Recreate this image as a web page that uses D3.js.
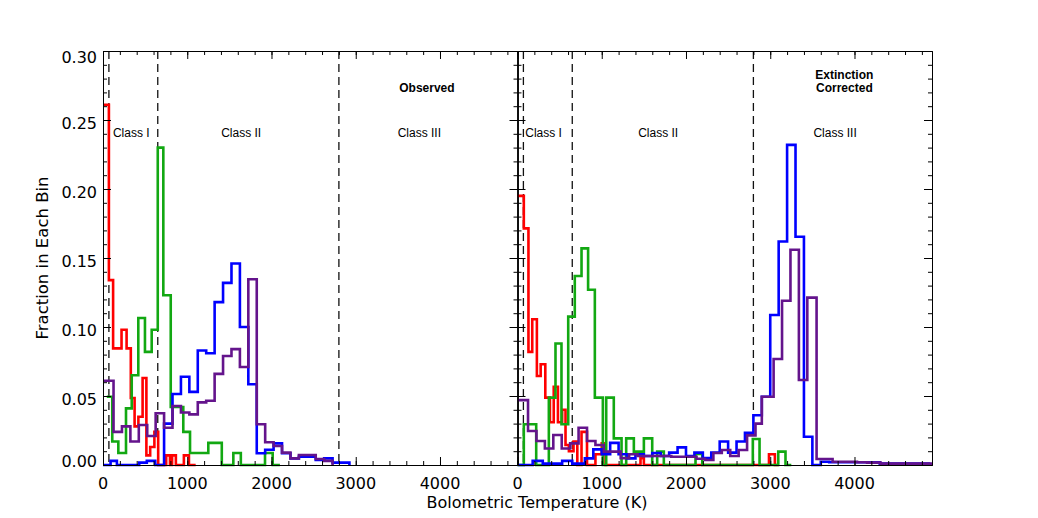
<!DOCTYPE html>
<html>
<head>
<meta charset="utf-8">
<script src="https://cdn.jsdelivr.net/npm/d3@7"></script>
<style>
  body { margin: 0; background: #fff; }
  svg text { font-family: "DejaVu Sans", sans-serif; fill: #000; }
  .tick-label { font-size: 16px; }
  .axis-title { font-size: 16px; }
  .note { font-family: "Liberation Sans", Arial, sans-serif; font-size: 12px; }
  .note.bold { font-weight: bold; }
  .axis path, .axis line { stroke: #000; stroke-width: 1; }
</style>
</head>
<body>
<div id="chart"></div>
<script>
// Bolometric temperature bins: [bin start T (K), fraction in bin]; last pair closes the step
const redObs = [[0, 0.261], [70, 0.134], [120, 0.0845], [220, 0.098], [280, 0.0845], [330, 0.0485],
  [375, 0.028], [420, 0.035], [470, 0.063], [515, 0.007], [560, 0.013], [610, 0.024], [655, 0],
  [750, 0.007], [795, 0], [820, 0.007], [865, 0], [960, 0.007], [1020, 0], [1100, 0]];
const greenObs = [[45, 0.0495], [110, 0.017], [182, 0.0087], [273, 0.041], [341, 0.065], [419, 0.1065],
  [498, 0.082], [578, 0.098], [650, 0.23], [716, 0.123], [804, 0.042], [953, 0.024], [1033, 0.0087],
  [1250, 0.016], [1410, 0], [1547, 0.0087], [1636, 0], [1923, 0.0087], [2014, 0], [2100, 0]];
const blueObs = [[0, 0], [90, 0.003], [165, 0], [430, 0.0017], [520, 0.003], [620, 0], [725, 0.030],
  [825, 0.0514], [925, 0.064], [1025, 0.053], [1125, 0.083], [1225, 0.081], [1325, 0.118], [1425, 0.132],
  [1525, 0.146], [1625, 0.100], [1725, 0.0585], [1825, 0.0085], [1925, 0.011], [2025, 0.0157],
  [2125, 0.0085], [2225, 0.0048], [2325, 0.006], [2425, 0.006], [2525, 0.0036], [2625, 0.0048],
  [2725, 0.0017], [2825, 0.0017], [2925, 0]];
const purpleObs = [[0, 0.061], [125, 0.024], [225, 0.028], [325, 0.017], [425, 0.029], [525, 0.021],
  [625, 0.0375], [725, 0.027], [825, 0.0428], [925, 0.038], [1025, 0.0367], [1125, 0.0454], [1225, 0.0466],
  [1325, 0.066], [1425, 0.079], [1525, 0.084], [1625, 0.071], [1725, 0.1346], [1825, 0.0295],
  [1925, 0.0165], [2025, 0.0138], [2125, 0.009], [2225, 0.0048], [2325, 0.0072], [2525, 0.0043],
  [2625, 0.003], [2725, 0]];

const redExt = [[0, 0.195], [75, 0.1715], [130, 0.082], [175, 0.1056], [230, 0.0645], [275, 0.073],
  [330, 0.0488], [385, 0.031], [430, 0.0567], [480, 0.031], [530, 0.040], [570, 0.0145], [610, 0.010],
  [665, 0.017], [710, 0], [760, 0.024], [825, 0], [925, 0.0078], [1000, 0.0157], [1045, 0],
  [1460, 0.005], [1500, 0], [2985, 0.0078], [3055, 0], [3100, 0]];
const greenExt = [[0, 0], [75, 0.0295], [222, 0], [372, 0.0488], [451, 0.088], [522, 0.0295],
  [602, 0.1075], [680, 0.137], [760, 0.157], [838, 0.127], [918, 0.0488], [1013, 0], [1053, 0.0488],
  [1143, 0.0193], [1235, 0], [1290, 0.0193], [1381, 0.0097], [1500, 0.0193], [1599, 0], [1658, 0.0097],
  [1737, 0], [2113, 0.008], [2193, 0], [2793, 0.0188], [2873, 0], [3095, 0.0097], [3181, 0], [3250, 0]];
const blueExt = [[0, 0], [180, 0.003], [300, 0.001], [530, 0.003], [650, 0.001], [800, 0.0048],
  [900, 0.0113], [1000, 0.0078], [1100, 0.016], [1200, 0.0078], [1300, 0.0048], [1400, 0.0078],
  [1500, 0.0065], [1600, 0.0087], [1700, 0.0065], [1800, 0.009], [1900, 0.0128], [2000, 0.0065],
  [2100, 0.009], [2200, 0.005], [2300, 0.009], [2400, 0.017], [2500, 0.009], [2600, 0.017],
  [2700, 0.0234], [2800, 0.036], [2900, 0.0495], [3000, 0.1087], [3100, 0.162], [3200, 0.232],
  [3300, 0.1654], [3400, 0.0205], [3500, 0], [3600, 0.0024], [3700, 0.002], [4300, 0.001], [4900, 0.001]];
const purpleExt = [[0, 0.047], [125, 0.0246], [225, 0.0174], [325, 0.012], [425, 0.0217], [525, 0.012],
  [625, 0.0157], [725, 0.027], [825, 0.0174], [925, 0.0145], [1025, 0.0097], [1125, 0.0097],
  [1225, 0.005], [1325, 0.0078], [1425, 0.0065], [1825, 0.006], [2125, 0.0045], [2225, 0.0036],
  [2325, 0.0087], [2425, 0.0109], [2525, 0.0065], [2625, 0.0109], [2725, 0.0215], [2825, 0.030],
  [2900, 0.0495], [3040, 0.0768], [3140, 0.119], [3240, 0.156], [3340, 0.0616], [3440, 0.1213],
  [3550, 0.0043], [3740, 0.0024], [4030, 0.002], [4150, 0.0017], [4310, 0.001], [4920, 0.001]];

const classBounds = [70, 650, 2800];
const xTicks = [0, 1000, 2000, 3000, 4000];
const yTicks = [0, 0.05, 0.10, 0.15, 0.20, 0.25, 0.30];
const yTickLabels = ["0.00", "0.05", "0.10", "0.15", "0.20", "0.25", "0.30"];
const colors = { red: "#ff0000", green: "#12a812", blue: "#0000ff", purple: "#64148c" };

const svg = d3.select("#chart").append("svg")
  .attr("width", 1038)
  .attr("height", 518);

class HistPanel {
  constructor({ left, showYLabels }, series, notes) {
    this.left = left;
    this.top = 51;
    this.width = 414.5;
    this.height = 414;
    this.series = series;
    this.notes = notes;
    this.showYLabels = showYLabels;
    this.initChart();
  }

  initChart() {
    let vis = this;
    vis.g = svg.append("g")
      .attr("transform", "translate(" + vis.left + "," + vis.top + ")");

    vis.x = d3.scaleLinear().domain([0, 4920]).range([0, vis.width]);
    vis.y = d3.scaleLinear().domain([0, 0.30]).range([vis.height, 0]);

    // class boundaries
    vis.g.selectAll(".bound")
      .data(classBounds)
      .join("line")
      .attr("class", "bound")
      .attr("x1", d => vis.x(d)).attr("x2", d => vis.x(d))
      .attr("y1", 0).attr("y2", vis.height)
      .attr("stroke", "#111")
      .attr("stroke-width", 1.3)
      .attr("stroke-dasharray", "8,5");

    // histograms
    const line = d3.line()
      .x(d => vis.x(d[0]))
      .y(d => vis.y(d[1]))
      .curve(d3.curveStepAfter);

    vis.series.forEach(s => {
      vis.g.append("path")
        .datum(s.values)
        .attr("d", line)
        .attr("fill", "none")
        .attr("stroke", s.color)
        .attr("stroke-width", 2.6);
    });

    vis.drawAxes();

    // annotations
    vis.notes.forEach(n => {
      vis.g.append("text")
        .attr("class", n.bold ? "note bold" : "note")
        .attr("x", vis.x(n.t))
        .attr("y", vis.y(n.f))
        .attr("text-anchor", "middle")
        .text(n.text);
    });
  }

  drawAxes() {
    let vis = this;
    const xMinor = d3.range(0, 4921, 200);
    const yMinor = d3.range(0, 0.3001, 0.01);

    const addAxis = (axis, transform) => {
      vis.g.append("g")
        .attr("class", "axis")
        .attr("transform", transform)
        .call(axis)
        .call(g => g.selectAll("text").remove());
    };

    [[d3.axisBottom, "translate(0," + vis.height + ")"], [d3.axisTop, "translate(0,0)"]].forEach(([ax, tr]) => {
      addAxis(ax(vis.x).tickValues(xMinor).tickSize(-4).tickSizeOuter(0), tr);
      addAxis(ax(vis.x).tickValues(xTicks).tickSize(-8).tickSizeOuter(0), tr);
    });
    [[d3.axisLeft, "translate(0,0)"], [d3.axisRight, "translate(" + vis.width + ",0)"]].forEach(([ax, tr]) => {
      addAxis(ax(vis.y).tickValues(yMinor).tickSize(-4).tickSizeOuter(0), tr);
      addAxis(ax(vis.y).tickValues(yTicks).tickSize(-8).tickSizeOuter(0), tr);
    });

    vis.g.selectAll(".xlab")
      .data(xTicks)
      .join("text")
      .attr("class", "tick-label")
      .attr("x", d => vis.x(d))
      .attr("y", vis.height + 24)
      .attr("text-anchor", "middle")
      .text(d => d);

    if (vis.showYLabels) {
      vis.g.selectAll(".ylab")
        .data(yTicks)
        .join("text")
        .attr("class", "tick-label")
        .attr("x", -6)
        .attr("y", d => Math.max(6, Math.min(vis.height - 4, vis.y(d) + 3)))
        .attr("dy", "0.36em")
        .attr("text-anchor", "end")
        .text((d, i) => yTickLabels[i]);
    }
  }
}

new HistPanel({ left: 103, showYLabels: true }, [
  { values: redObs, color: colors.red },
  { values: greenObs, color: colors.green },
  { values: blueObs, color: colors.blue },
  { values: purpleObs, color: colors.purple }
], [
  { text: "Class I", t: 335, f: 0.2375 },
  { text: "Class II", t: 1640, f: 0.2375 },
  { text: "Class III", t: 3755, f: 0.2375 },
  { text: "Observed", t: 3845, f: 0.2701, bold: true }
]);

new HistPanel({ left: 517.5, showYLabels: false }, [
  { values: redExt, color: colors.red },
  { values: greenExt, color: colors.green },
  { values: blueExt, color: colors.blue },
  { values: purpleExt, color: colors.purple }
], [
  { text: "Class I", t: 310, f: 0.2375 },
  { text: "Class II", t: 1670, f: 0.2375 },
  { text: "Class III", t: 3770, f: 0.2375 },
  { text: "Extinction", t: 3880, f: 0.2795, bold: true },
  { text: "Corrected", t: 3880, f: 0.2701, bold: true }
]);

// axis titles
svg.append("text")
  .attr("class", "axis-title")
  .attr("x", 537)
  .attr("y", 508)
  .attr("text-anchor", "middle")
  .text("Bolometric Temperature (K)");

svg.append("text")
  .attr("class", "axis-title")
  .attr("transform", "translate(48,258) rotate(-90)")
  .attr("text-anchor", "middle")
  .style("font-size", "16.5px")
  .text("Fraction in Each Bin");
</script>
</body>
</html>
